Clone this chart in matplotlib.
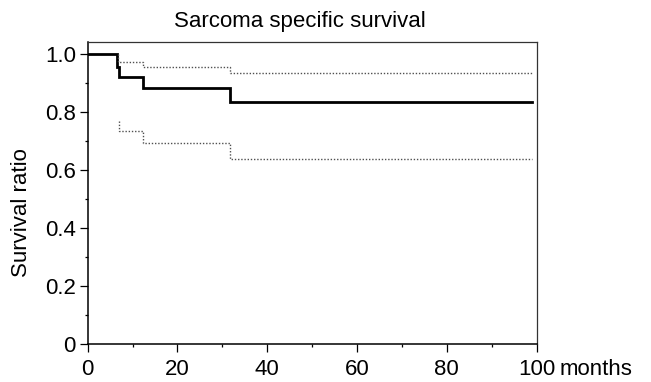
import numpy as np
import matplotlib
matplotlib.use("Agg")
import matplotlib.pyplot as plt
from matplotlib.ticker import MultipleLocator

plt.rcParams['font.family'] = ['Liberation Sans', 'DejaVu Sans']

# Kaplan-Meier estimate (months, survival ratio)
event_months = [6.6, 7.0, 12.4, 31.7]
survival = [0.957, 0.921, 0.883, 0.836]
last_month = 98.9

# confidence band (dotted), starts at first event
upper_months = [6.8, 6.8, 12.4, 31.7]
upper_ci = [1.0, 0.974, 0.957, 0.934]
lower_months = [7.0, 7.0, 12.4, 31.7]
lower_ci = [0.771, 0.736, 0.695, 0.638]

xticks = [0, 20, 40, 60, 80, 100]
xtick_labels = ['0', '20', '40', '60', '80', '100']
yticks = [0, 0.2, 0.4, 0.6, 0.8, 1.0]
ytick_labels = ['0', '0.2', '0.4', '0.6', '0.8', '1.0']

fig = plt.figure(figsize=(6.51, 3.82), dpi=100)
ax = fig.add_axes([87.7 / 651, 1 - 344 / 382, (536.5 - 87.7) / 651, (344 - 41.7) / 382])

# main curve
x = [0] + event_months + [last_month]
y = [1.0] + survival + [survival[-1]]
ax.step(x, y, where='post', color='black', lw=2.0, solid_joinstyle='miter')

# confidence limits
ax.step(upper_months + [last_month], upper_ci + [upper_ci[-1]], where='post',
        color='#505050', lw=1.0, linestyle=(0, (1, 1.3)))
ax.step(lower_months + [last_month], lower_ci + [lower_ci[-1]], where='post',
        color='#505050', lw=1.0, linestyle=(0, (1, 1.3)))

ax.set_xlim(0, 100)
ax.set_ylim(0, 1.0435)
ax.set_xticks(xticks)
ax.set_xticklabels(xtick_labels)
ax.set_yticks(yticks)
ax.set_yticklabels(ytick_labels)
ax.xaxis.set_minor_locator(MultipleLocator(10))
ax.yaxis.set_minor_locator(MultipleLocator(0.1))
ax.tick_params(which='major', direction='out', length=5.5, width=0.9, labelsize=16, pad=3)
ax.tick_params(which='minor', direction='out', length=2.5, width=0.9)
ax.tick_params(axis='x', which='major', pad=5)

for side in ['left', 'bottom']:
    ax.spines[side].set_linewidth(1.1)
    ax.spines[side].set_color('black')
for side in ['top', 'right']:
    ax.spines[side].set_linewidth(0.9)
    ax.spines[side].set_color('#333333')

# unit after last tick label
ax.annotate('months', xy=(100, 0), xycoords=('data', 'axes fraction'),
            xytext=(16.5, -10.5), textcoords='offset points',
            ha='left', va='top', fontsize=16)

fig.text(300 / 651, 1 - 27 / 382, 'Sarcoma specific survival', ha='center', va='baseline', fontsize=16)
fig.text(22 / 651, 1 - 213 / 382, 'Survival ratio', ha='center', va='center', rotation=90, fontsize=16)

fig.savefig('out.png', dpi=100)
